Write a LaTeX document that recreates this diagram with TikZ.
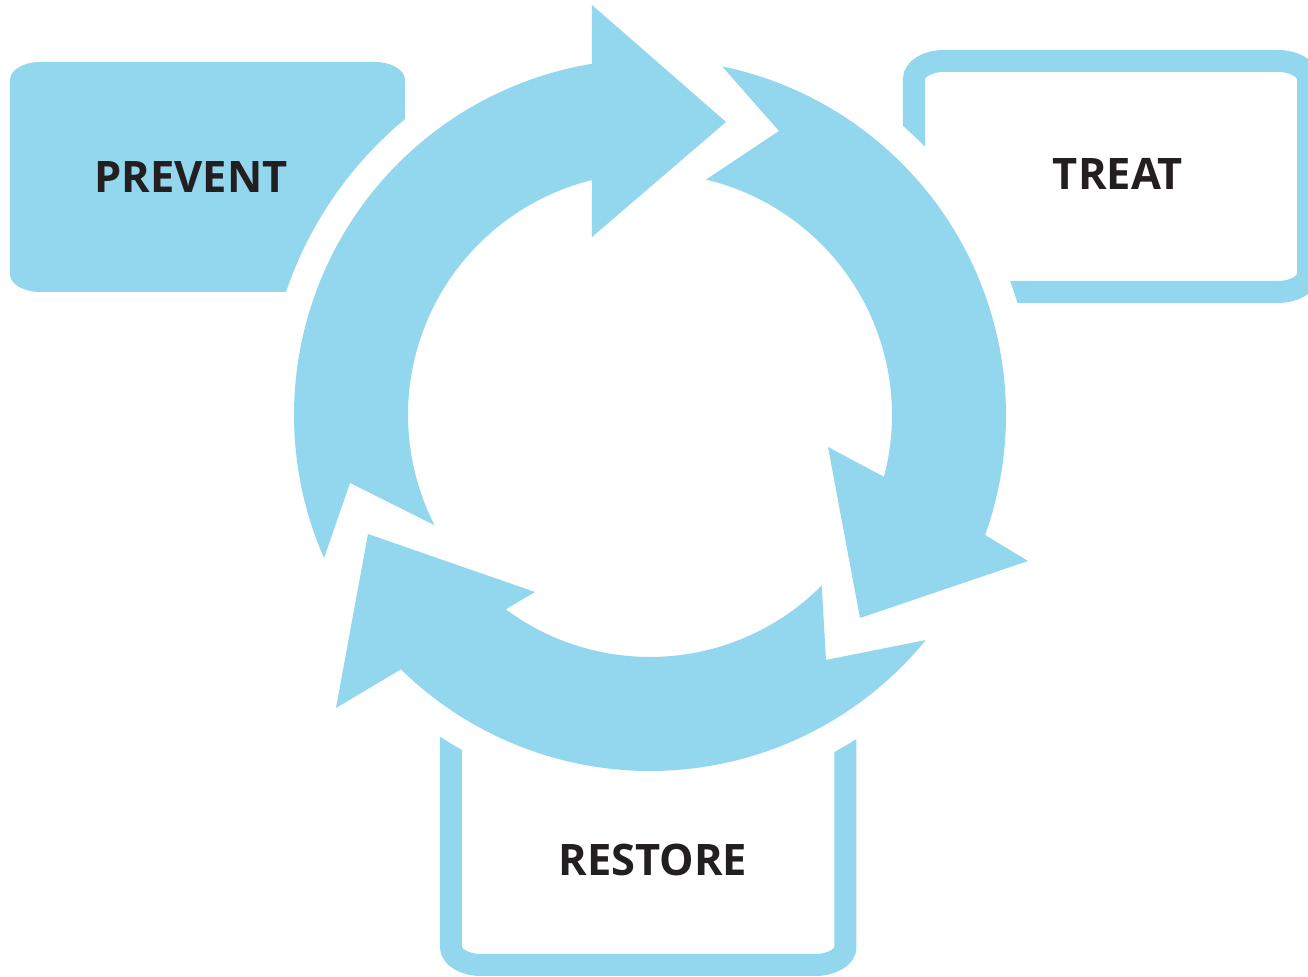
\documentclass[tikz,border=0pt]{standalone}
\usepackage{fontspec}
\setmainfont{Open Sans}
\definecolor{cycleblue}{RGB}{146,215,237}
\definecolor{labelink}{RGB}{35,31,32}

% box with flat (elliptic) corners: options, x1, y1, x2, y2
\newcommand{\softbox}[5]{%
  \path[#1] (#2+30,#5) -- (#4-30,#5)
    arc[start angle=90, end angle=0, x radius=30, y radius=18] -- (#4,#3+18)
    arc[start angle=0, end angle=-90, x radius=30, y radius=18] -- (#2+30,#3)
    arc[start angle=270, end angle=180, x radius=30, y radius=18] -- (#2,#5-18)
    arc[start angle=180, end angle=90, x radius=30, y radius=18] -- cycle;}

\begin{document}
\begin{tikzpicture}[x=0.5pt, y=0.5pt,
                    label node/.style={font=\fontsize{21.7}{26}\selectfont\bfseries,text=labelink,inner sep=0pt},
                    ring arrow/.style={fill=cycleblue,draw=none},
                    outline box/.style={draw=cycleblue,line width=11pt}]

  \useasboundingbox (-650,-562) rectangle (658,415);
  \clip (-650,-562) rectangle (658,415);
  \coordinate (c) at (0,0);

  % boxes behind the ring
  \softbox{fill=cycleblue}{-640}{123}{-245}{353}
  \softbox{outline box}{264}{123}{658}{354}
  \softbox{outline box}{-199}{-550}{195.5}{-250}

  % white gap round the ring
  \fill[white] (c) circle[radius=384];

  % the three ring arrows
  \fill[ring arrow] (203.7:356) arc[start angle=203.7, end angle=99.4, radius=356]
      -- (-58,410) -- (76,293) -- (-58,178) -- (103.9:242)
      arc[start angle=103.9, end angle=207.1, radius=242] -- (-300,-68) -- cycle;
  \fill[ring arrow] (78.3:356) arc[start angle=78.3, end angle=-19.7, radius=356]
      -- (378,-146) -- (210,-203) -- (178,-32) -- (-14.8:242)
      arc[start angle=-14.8, end angle=76.6, radius=242] -- (129,284) -- cycle;
  \fill[ring arrow] (-39.2:356) arc[start angle=-39.2, end angle=-134.4, radius=356]
      -- (-314,-293) -- (-282,-119) -- (-115,-177) -- (-126.6:242)
      arc[start angle=-126.6, end angle=-44.8, radius=242] -- (176,-245) -- cycle;

  \node[label node] (prevent) at (-459,237.5) {PREVENT};
  \node[label node] (treat) at (468,241.5) {TREAT};
  \node[label node] (restore) at (3,-444.5) {RESTORE};

\end{tikzpicture}
\end{document}
